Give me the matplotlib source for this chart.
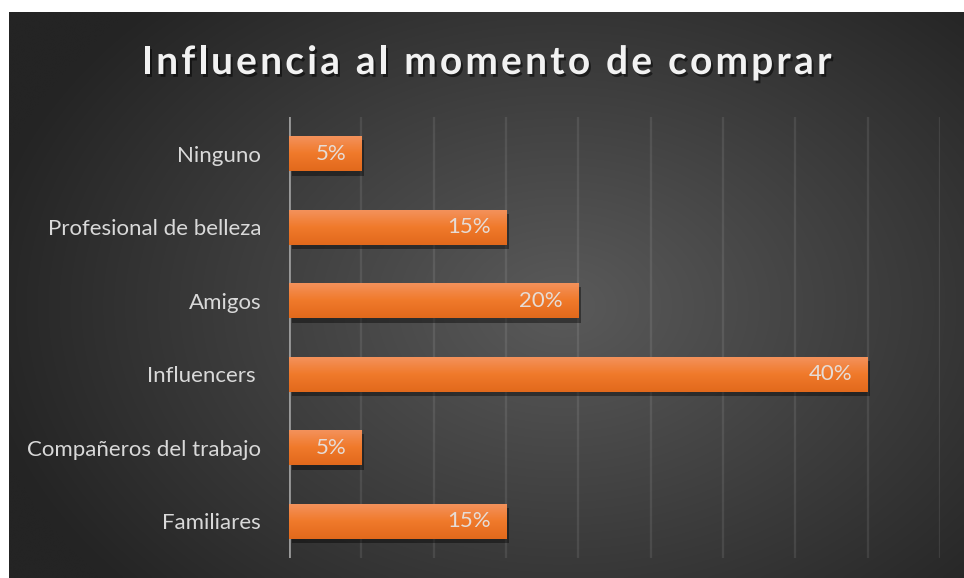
import matplotlib
matplotlib.use('Agg')
import matplotlib.pyplot as plt
import matplotlib.patheffects as pe
from matplotlib.colors import LinearSegmentedColormap
import numpy as np

categories = ['Ninguno', 'Profesional de belleza', 'Amigos', 'Influencers ',
              'Compañeros del trabajo', 'Familiares']
values = [5, 15, 20, 40, 5, 15]
labels = ['5%', '15%', '20%', '40%', '5%', '15%']
title = 'Influencia al momento de comprar'

W, H = 964, 578
fig = plt.figure(figsize=(W / 100, H / 100), dpi=100, facecolor='white')

# dark radial background of the chart area
bg = fig.add_axes([9 / W, 0, (W - 9) / W, (H - 12) / H], zorder=-10)
gx, gy = np.meshgrid(np.linspace(0, 1, 400), np.linspace(0, 1, 240))
r = np.sqrt(((gx - 0.58) / 0.62) ** 2 + ((gy - 0.52) / 0.75) ** 2)
shade = 0x5a / 255 + (0x24 / 255 - 0x5a / 255) * np.clip(r, 0, 1)
bg.imshow(np.dstack([shade] * 3), aspect='auto', extent=[0, 1, 0, 1], interpolation='bicubic')
bg.set_axis_off()

ax = fig.add_axes([289 / W, (H - 558) / H, 651 / W, 441 / H])
ax.set_facecolor('none')
y = np.arange(len(categories))

bars = ax.barh(y, values, height=0.48, color='#ED7D31', zorder=3,
               path_effects=[pe.SimplePatchShadow(offset=(2, -3), shadow_rgbFace='black', alpha=0.4),
                             pe.Normal()])
orange = LinearSegmentedColormap.from_list('o', ['#E2691C', '#F07A2B', '#F4935E'])
grad = np.linspace(0, 1, 64).reshape(-1, 1)
for b in bars:
    x0, y0 = b.get_x(), b.get_y()
    im = ax.imshow(grad, cmap=orange, aspect='auto', origin='lower', zorder=4,
                   extent=[x0, x0 + b.get_width(), y0 + b.get_height(), y0])
    im.set_clip_path(b)

for b, lab in zip(bars, labels):
    ax.annotate(lab, (b.get_width(), b.get_y() + b.get_height() / 2),
                xytext=(-11, 0), textcoords='offset points', ha='right', va='center',
                color='#E6DCD6', fontsize=16, family='Lato', zorder=5)

ax.set_xlim(0, 45)
ax.set_ylim(len(categories) - 0.5, -0.5)
ax.set_xticks(np.arange(5, 46, 5))
ax.xaxis.grid(True, color='white', alpha=0.09, lw=1.6, zorder=0)
ax.tick_params(axis='x', length=0, labelbottom=False)
ax.axvline(0, color='#9a9a9a', lw=2, zorder=2)
ax.set_yticks(y)
ax.set_yticklabels(categories, color='#D9D9D9', fontsize=16, family='Lato')
ax.tick_params(axis='y', length=0, pad=20)
for s in ax.spines.values():
    s.set_visible(False)

# letter-spaced title, drawn one character at a time
fig.canvas.draw()
rend = fig.canvas.get_renderer()
tprops = dict(fontsize=28, family='Lato', weight='bold', color='#F2F2F2')

def text_w(s):
    t = fig.text(0, 0, s, **tprops)
    w = t.get_window_extent(rend).width
    t.remove()
    return w

bar_w = text_w('||')
widths = [text_w('|' + c + '|') - bar_w for c in title]
total = 690
gap = (total - sum(widths)) / (len(title) - 1)
xpos = (9 + W) / 2 - total / 2
for c, w in zip(title, widths):
    fig.text(xpos / W, (H - 74) / H, c, ha='left', va='baseline', **tprops,
             path_effects=[pe.withSimplePatchShadow(offset=(1.5, -2), shadow_rgbFace='black', alpha=0.5)])
    xpos += w + gap

fig.savefig('out.png', dpi=100, facecolor='white')
